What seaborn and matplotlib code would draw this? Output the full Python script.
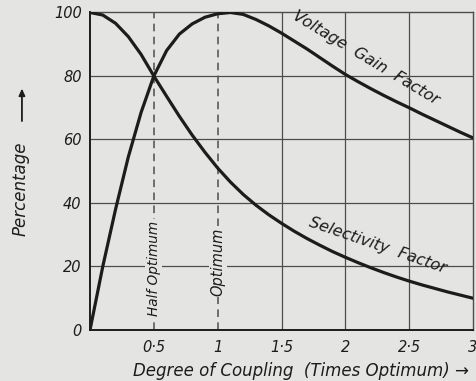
import numpy as np
import pandas as pd
import seaborn as sns
import matplotlib
matplotlib.use("Agg")
import matplotlib.pyplot as plt

# Degree of coupling (times optimum)
coupling = [0.0, 0.1, 0.2, 0.3, 0.4, 0.5, 0.6, 0.7, 0.8, 0.9, 1.0,
            1.1, 1.2, 1.3, 1.4, 1.5, 1.6, 1.7, 1.8, 1.9, 2.0,
            2.1, 2.2, 2.3, 2.4, 2.5, 2.6, 2.7, 2.8, 2.9, 3.0]
# Voltage gain factor, percent
voltage_gain = [0, 20, 38, 54.5, 68.5, 80, 88, 93.2, 96.4, 98.5, 99.6,
                100, 99.4, 97.8, 95.8, 93.5, 91, 88.5, 85.8, 83.1, 80.5,
                78.2, 76, 73.9, 71.9, 70, 68, 66.1, 64.2, 62.3, 60.5]
# Selectivity factor, percent
selectivity = [100, 99.2, 96.6, 92.4, 86.8, 80, 73.6, 67.3, 61.4, 56, 51,
               46.6, 42.7, 39.3, 36.3, 33.6, 31.1, 28.8, 26.7, 24.7, 22.9,
               21.2, 19.6, 18.1, 16.7, 15.4, 14.2, 13.1, 12.0, 11.0, 10.0]

y_ticks = [0, 20, 40, 60, 80, 100]
y_tick_labels = ["0", "20", "40", "60", "80", "100"]
x_ticks = [0.5, 1, 1.5, 2, 2.5, 3]
x_tick_labels = ["0·5", "1", "1·5", "2", "2·5", "3"]
half_optimum = 0.5
optimum = 1.0

PAPER = "#e4e4e2"
INK = "#1c1c1c"
GRID = "#4d4d4d"

sns.set_theme(style="white")
plt.rcParams["font.family"] = ["DejaVu Sans"]
plt.rcParams["font.style"] = "italic"

fig = plt.figure(figsize=(4.77, 3.81), dpi=100, facecolor=PAPER)
ax = fig.add_axes([0.1887, 0.1339, 0.8029, 0.8333])
ax.set_facecolor(PAPER)

df = pd.DataFrame({"coupling": coupling * 2,
                   "value": voltage_gain + selectivity,
                   "curve": ["Voltage Gain Factor"] * len(coupling)
                            + ["Selectivity Factor"] * len(coupling)})

# grid: solid horizontals, solid verticals except the two optimum markers
for yv in y_ticks[1:-1]:
    ax.axhline(yv, color=GRID, lw=0.9, zorder=1)
for xv in x_ticks[:-1]:
    if xv in (half_optimum, optimum):
        ax.axvline(xv, color=GRID, lw=1.1, ls=(0, (5, 3.5)), zorder=1)
    else:
        ax.axvline(xv, color=GRID, lw=0.9, zorder=1)

sns.lineplot(data=df, x="coupling", y="value", hue="curve",
             palette=[INK, INK], linewidth=2.3, legend=False, ax=ax,
             zorder=3, sort=False)
for ln in ax.get_lines():
    ln.set_solid_joinstyle("round")
    ln.set_solid_capstyle("round")

ax.set_xlim(0, 3)
ax.set_ylim(0, 100)
ax.set_xticks(x_ticks)
ax.set_xticklabels(x_tick_labels)
ax.set_yticks(y_ticks)
ax.set_yticklabels(y_tick_labels)
ax.tick_params(axis="both", length=0, labelsize=10.5, colors=INK)
ax.tick_params(axis="x", pad=7)
ax.tick_params(axis="y", pad=6)
for s in ax.spines.values():
    s.set_visible(True)
    s.set_color(GRID)
    s.set_linewidth(1.0)
ax.spines["left"].set_color(INK)
ax.spines["left"].set_linewidth(1.4)
ax.spines["bottom"].set_color(INK)
ax.spines["bottom"].set_linewidth(1.4)
ax.set_xlabel("")
ax.set_ylabel("")

# axis titles with arrows
fig.text(0.63, 0.027, "Degree of Coupling  (Times Optimum) \u2192",
         ha="center", va="center", fontsize=12, color=INK)
fig.text(0.044, 0.504, "Percentage", rotation=90, ha="center", va="center",
         fontsize=12, color=INK)
fig.add_artist(matplotlib.patches.FancyArrowPatch(
    (0.046, 0.675), (0.046, 0.775), transform=fig.transFigure,
    arrowstyle="-|>,head_length=4,head_width=1.8", color=INK, lw=1.3))

# curve and marker labels
ax.text(half_optimum, 19.5, "Half Optimum", rotation=90, ha="center",
        va="center", fontsize=9.8, color=INK,
        bbox=dict(facecolor=PAPER, edgecolor="none", pad=1.0), zorder=2)
ax.text(optimum, 21.5, "Optimum", rotation=90, ha="center", va="center",
        fontsize=10.5, color=INK,
        bbox=dict(facecolor=PAPER, edgecolor="none", pad=1.0), zorder=2)
ax.text(2.16, 85.7, "Voltage  Gain  Factor", rotation=-31, ha="center",
        va="center", fontsize=11.5, color=INK, zorder=4)
ax.text(2.256, 26.8, "Selectivity  Factor", rotation=-19, ha="center",
        va="center", fontsize=11.5, color=INK, zorder=4)

fig.savefig("out.png", dpi=100, facecolor=PAPER)
